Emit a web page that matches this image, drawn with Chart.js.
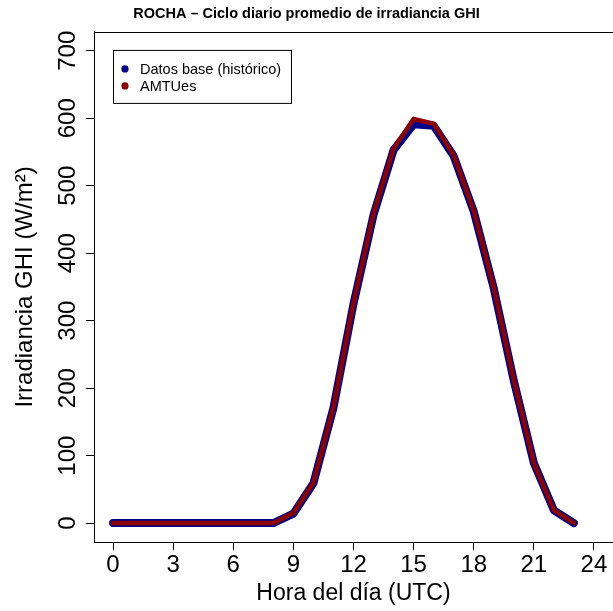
<!DOCTYPE html>
<html>
<head>
<meta charset="utf-8">
<script src="https://cdn.jsdelivr.net/npm/chart.js@4.4.0/dist/chart.umd.min.js"></script>
<style>
    html, body { margin: 0; padding: 0; background: #fff; }
    #wrap { width: 613px; height: 611px; }
</style>
</head>
<body>
<div id="wrap"><canvas id="chart" width="613" height="611"></canvas></div>
<script>
// Data
const hours = [0, 1, 2, 3, 4, 5, 6, 7, 8, 9, 10, 11, 12, 13, 14, 15, 16, 17, 18, 19, 20, 21, 22, 23];
const datosBase = [0, 0, 0, 0, 0, 0, 0, 0, 0, 14, 59, 171, 325, 457, 553, 591, 589, 544, 462, 348, 211, 89, 19, 0];
const amtues = [0, 0, 0, 0, 0, 0, 0, 0, 0, 15, 60, 172, 326, 459, 555, 599, 592, 545, 463, 349, 212, 89, 19, 0];
const xTicks = [0, 3, 6, 9, 12, 15, 18, 21, 24];
const yTicks = [0, 100, 200, 300, 400, 500, 600, 700];

const FONT = "'Liberation Sans', Arial, Helvetica, sans-serif";

const toPoints = (ys) => hours.map((h, i) => ({ x: h, y: ys[i] }));

// Extra drawing: top frame line, rotated y labels, boxed legend
const rStyle = {
    id: 'rStyle',
    afterDraw(chart) {
        const ctx = chart.ctx;
        const area = chart.chartArea;
        const yScale = chart.scales.y;

        ctx.save();
        ctx.strokeStyle = '#000';
        ctx.lineWidth = 1;
        ctx.beginPath();
        ctx.moveTo(area.left, Math.round(area.top) + 0.5);
        ctx.lineTo(area.right + 1, Math.round(area.top) + 0.5);
        ctx.stroke();

        // y tick labels, rotated like R (las = 0)
        ctx.fillStyle = '#000';
        ctx.font = '24px ' + FONT;
        ctx.textAlign = 'center';
        ctx.textBaseline = 'alphabetic';
        yScale.ticks.forEach(t => {
            const py = yScale.getPixelForValue(t.value);
            ctx.save();
            ctx.translate(75, py);
            ctx.rotate(-Math.PI / 2);
            ctx.fillText(String(t.value), 0, 0);
            ctx.restore();
        });

        // legend
        const lx = area.left + 19, ly = area.top + 18;
        const lw = 178, lh = 53;
        ctx.strokeRect(lx + 0.5, ly + 0.5, lw, lh);
        ctx.font = '14.5px ' + FONT;
        ctx.textAlign = 'left';
        ctx.textBaseline = 'middle';
        chart.data.datasets.forEach((ds, i) => {
            const cy = ly + 19 + i * 17;
            ctx.beginPath();
            ctx.fillStyle = ds.pointColor;
            ctx.arc(lx + 12, cy, 3.6, 0, Math.PI * 2);
            ctx.fill();
            ctx.fillStyle = '#000';
            ctx.fillText(ds.label, lx + 27, cy + 1);
        });
        ctx.restore();
    }
};

new Chart(document.getElementById('chart'), {
    type: 'line',
    data: {
        datasets: [
            {
                label: 'Datos base (histórico)',
                data: toPoints(datosBase),
                borderColor: '#00008B',
                pointColor: '#00008B',
                borderWidth: 8,
                order: 2
            },
            {
                label: 'AMTUes',
                data: toPoints(amtues),
                borderColor: '#8B0000',
                pointColor: '#8B0000',
                borderWidth: 4.6,
                order: 1
            }
        ]
    },
    options: {
        responsive: false,
        animation: false,
        devicePixelRatio: 1,
        layout: { padding: 0 },
        elements: {
            line: {
                tension: 0,
                fill: false,
                borderCapStyle: 'round',
                borderJoinStyle: 'round'
            },
            point: { radius: 0, hoverRadius: 0 }
        },
        plugins: {
            legend: { display: false },
            tooltip: { enabled: false },
            title: {
                display: true,
                text: 'ROCHA – Ciclo diario promedio de irradiancia GHI',
                color: '#000',
                font: { family: FONT, size: 14.5, weight: 'bold' },
                padding: { top: 5, bottom: 9.5 }
            }
        },
        scales: {
            x: {
                type: 'linear',
                min: -0.95,
                max: 24.95,
                afterFit(scale) { scale.height = 69; },
                afterBuildTicks(scale) { scale.ticks = xTicks.map(v => ({ value: v })); },
                grid: {
                    drawOnChartArea: false,
                    drawTicks: true,
                    tickLength: 8,
                    color: '#000'
                },
                border: { display: true, color: '#000', width: 1 },
                ticks: {
                    color: '#000',
                    padding: 1,
                    maxRotation: 0,
                    autoSkip: false,
                    font: { family: FONT, size: 24 }
                },
                title: {
                    display: true,
                    text: 'Hora del día (UTC)',
                    color: '#000',
                    font: { family: FONT, size: 23 },
                    padding: { top: 0, bottom: 4 }
                }
            },
            y: {
                min: -28,
                max: 728,
                afterFit(scale) { scale.width = 94; },
                afterBuildTicks(scale) { scale.ticks = yTicks.map(v => ({ value: v })); },
                grid: {
                    drawOnChartArea: false,
                    drawTicks: true,
                    tickLength: 8,
                    color: '#000'
                },
                border: { display: true, color: '#000', width: 1 },
                ticks: { display: false },
                title: {
                    display: true,
                    text: 'Irradiancia GHI (W/m²)',
                    color: '#000',
                    font: { family: FONT, size: 24 },
                    padding: { top: 11, bottom: 0 }
                }
            }
        }
    },
    plugins: [rStyle]
});
</script>
</body>
</html>
